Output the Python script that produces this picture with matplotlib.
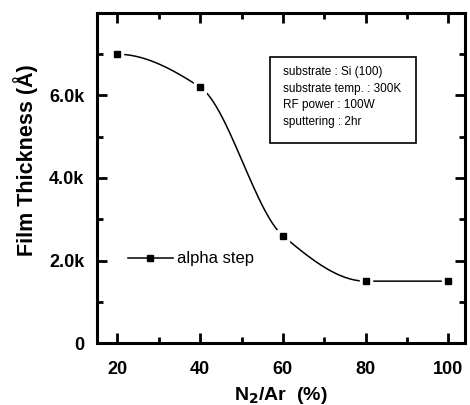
import numpy as np
import matplotlib
matplotlib.use("Agg")
import matplotlib.pyplot as plt
from matplotlib.patches import Rectangle

plt.rcParams['font.family'] = ['Liberation Sans', 'DejaVu Sans']

# data
n2_ratio = [20, 40, 60, 80, 100]
thickness = [7000, 6200, 2600, 1500, 1500]
y_ticks = [0, 2000, 4000, 6000]
y_labels = ["0", "2.0k", "4.0k", "6.0k"]
x_ticks = [20, 40, 60, 80, 100]
conditions = ["substrate : Si (100)", "substrate temp. : 300K",
              "RF power : 100W", "sputtering : 2hr"]


def pchip(x, y, xs):
    # monotone cubic through the points, only used to draw the smooth line
    x = np.asarray(x, float)
    y = np.asarray(y, float)
    h = np.diff(x)
    d = np.diff(y) / h
    m = np.zeros_like(y)
    for k in range(1, len(x) - 1):
        if d[k - 1] * d[k] > 0:
            w1 = 2 * h[k] + h[k - 1]
            w2 = h[k] + 2 * h[k - 1]
            m[k] = (w1 + w2) / (w1 / d[k - 1] + w2 / d[k])
    m0 = ((2 * h[0] + h[1]) * d[0] - h[0] * d[1]) / (h[0] + h[1])
    m[0] = m0 if np.sign(m0) == np.sign(d[0]) else 0.0
    mn = ((2 * h[-1] + h[-2]) * d[-1] - h[-1] * d[-2]) / (h[-1] + h[-2])
    m[-1] = mn if np.sign(mn) == np.sign(d[-1]) else 0.0
    out = np.empty_like(xs)
    for i, xv in enumerate(xs):
        k = min(np.searchsorted(x, xv, side='right') - 1, len(x) - 2)
        t = (xv - x[k]) / h[k]
        h00 = 2 * t**3 - 3 * t**2 + 1
        h10 = t**3 - 2 * t**2 + t
        h01 = -2 * t**3 + 3 * t**2
        h11 = t**3 - t**2
        out[i] = h00 * y[k] + h10 * h[k] * m[k] + h01 * y[k + 1] + h11 * h[k] * m[k + 1]
    return out


fig = plt.figure(figsize=(4.7, 4.05), dpi=100)
ax = fig.add_axes([0.206, 0.153, 0.783, 0.815])

xs = np.linspace(n2_ratio[0], n2_ratio[-1], 300)
ax.plot(xs, pchip(n2_ratio, thickness, xs), color='black', lw=1.1, zorder=2)
ax.plot(n2_ratio, thickness, 's', color='white', ms=8, zorder=3)
ax.plot(n2_ratio, thickness, 's', color='black', ms=5, zorder=4)

# proxy for legend entry
ax.plot([], [], '-s', color='black', lw=1.1, ms=4.5, label='alpha step')
leg = ax.legend(loc='center left', bbox_to_anchor=(0.084, 0.255), frameon=False,
                fontsize=12, handlelength=2.7, handletextpad=0.25,
                borderpad=0, borderaxespad=0)

ax.set_xlim(15, 104)
ax.set_ylim(0, 8000)
ax.set_xticks(x_ticks)
ax.set_xticks([30, 50, 70, 90], minor=True)
ax.set_yticks(y_ticks)
ax.set_yticklabels(y_labels)
ax.set_yticks([1000, 3000, 5000, 7000], minor=True)

for lab in ax.get_xticklabels() + ax.get_yticklabels():
    lab.set_fontweight('bold')
    lab.set_fontsize(13)

ax.tick_params(which='both', direction='in', top=True, right=True, width=2)
ax.tick_params(which='major', length=7)
ax.tick_params(which='minor', length=4)
ax.tick_params(axis='x', which='major', pad=13)
ax.tick_params(axis='y', which='major', pad=9)
for sp in ax.spines.values():
    sp.set_linewidth(2.2)

ax.set_xlabel("N$_\\mathbf{2}$/Ar  (%)", fontsize=14, fontweight='bold', labelpad=5)
ax.set_ylabel("Film Thickness (Å)", fontsize=15.5, fontweight='bold')
ax.yaxis.set_label_coords(-0.16, 0.555)

# condition box
ax.add_patch(Rectangle((0.47, 0.605), 0.397, 0.262, transform=ax.transAxes,
                       fill=False, lw=1.2, ec='black'))
for i, txt in enumerate(conditions):
    ax.text(0.505, 0.82 - i * 0.05, txt, transform=ax.transAxes,
            fontsize=8.5, va='center', ha='left')

fig.savefig("out.png", dpi=100)
